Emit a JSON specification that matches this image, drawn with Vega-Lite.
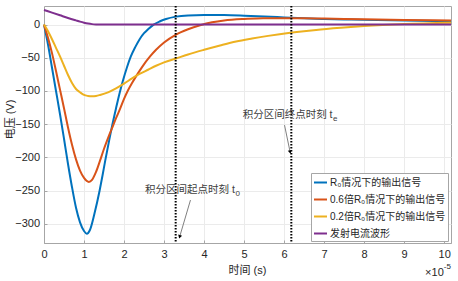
{
  "$schema": "https://vega.github.io/schema/vega-lite/v6.json",
  "width": 407,
  "height": 237,
  "autosize": {"type": "none"},
  "padding": {"left": 44, "top": 6, "right": 7, "bottom": 38},
  "config": {
    "font": "Liberation Sans, Noto Sans CJK SC",
    "view": {"stroke": "#a6a6a6", "strokeWidth": 1},
    "axis": {
      "domainColor": "#a6a6a6",
      "tickColor": "#a6a6a6",
      "gridColor": "#ebebeb",
      "labelColor": "#262626",
      "titleColor": "#262626",
      "labelFontSize": 11,
      "titleFontSize": 11,
      "titleFontWeight": "normal",
      "labelOverlap": false,
      "labelFlush": false
    }
  },
  "datasets": {
    "curves": [
      {"t": 0, "v": 0, "s": "R₀情况下的输出信号"},
      {"t": 0.1, "v": -30, "s": "R₀情况下的输出信号"},
      {"t": 0.2, "v": -65, "s": "R₀情况下的输出信号"},
      {"t": 0.3, "v": -100, "s": "R₀情况下的输出信号"},
      {"t": 0.4, "v": -135, "s": "R₀情况下的输出信号"},
      {"t": 0.5, "v": -172, "s": "R₀情况下的输出信号"},
      {"t": 0.6, "v": -210, "s": "R₀情况下的输出信号"},
      {"t": 0.7, "v": -245, "s": "R₀情况下的输出信号"},
      {"t": 0.8, "v": -276, "s": "R₀情况下的输出信号"},
      {"t": 0.9, "v": -298, "s": "R₀情况下的输出信号"},
      {"t": 1.0, "v": -311, "s": "R₀情况下的输出信号"},
      {"t": 1.07, "v": -315, "s": "R₀情况下的输出信号"},
      {"t": 1.15, "v": -309, "s": "R₀情况下的输出信号"},
      {"t": 1.26, "v": -285, "s": "R₀情况下的输出信号"},
      {"t": 1.39, "v": -250, "s": "R₀情况下的输出信号"},
      {"t": 1.46, "v": -228, "s": "R₀情况下的输出信号"},
      {"t": 1.53, "v": -205, "s": "R₀情况下的输出信号"},
      {"t": 1.62, "v": -177, "s": "R₀情况下的输出信号"},
      {"t": 1.7, "v": -153, "s": "R₀情况下的输出信号"},
      {"t": 1.8, "v": -126, "s": "R₀情况下的输出信号"},
      {"t": 1.89, "v": -103, "s": "R₀情况下的输出信号"},
      {"t": 1.97, "v": -85, "s": "R₀情况下的输出信号"},
      {"t": 2.07, "v": -65, "s": "R₀情况下的输出信号"},
      {"t": 2.17, "v": -48, "s": "R₀情况下的输出信号"},
      {"t": 2.28, "v": -34, "s": "R₀情况下的输出信号"},
      {"t": 2.39, "v": -22, "s": "R₀情况下的输出信号"},
      {"t": 2.5, "v": -13, "s": "R₀情况下的输出信号"},
      {"t": 2.6, "v": -7, "s": "R₀情况下的输出信号"},
      {"t": 2.74, "v": 0, "s": "R₀情况下的输出信号"},
      {"t": 2.9, "v": 5, "s": "R₀情况下的输出信号"},
      {"t": 3.05, "v": 8.5, "s": "R₀情况下的输出信号"},
      {"t": 3.3, "v": 12, "s": "R₀情况下的输出信号"},
      {"t": 3.6, "v": 13.8, "s": "R₀情况下的输出信号"},
      {"t": 4.0, "v": 14.5, "s": "R₀情况下的输出信号"},
      {"t": 4.5, "v": 14.3, "s": "R₀情况下的输出信号"},
      {"t": 5.0, "v": 13.4, "s": "R₀情况下的输出信号"},
      {"t": 5.5, "v": 12.2, "s": "R₀情况下的输出信号"},
      {"t": 6.0, "v": 10.8, "s": "R₀情况下的输出信号"},
      {"t": 6.5, "v": 9.4, "s": "R₀情况下的输出信号"},
      {"t": 7.0, "v": 8.5, "s": "R₀情况下的输出信号"},
      {"t": 7.5, "v": 7.8, "s": "R₀情况下的输出信号"},
      {"t": 8.0, "v": 7.1, "s": "R₀情况下的输出信号"},
      {"t": 9.0, "v": 6.1, "s": "R₀情况下的输出信号"},
      {"t": 10.17, "v": 5.3, "s": "R₀情况下的输出信号"},

      {"t": 0, "v": 0, "s": "0.6倍R₀情况下的输出信号"},
      {"t": 0.1, "v": -20, "s": "0.6倍R₀情况下的输出信号"},
      {"t": 0.2, "v": -43, "s": "0.6倍R₀情况下的输出信号"},
      {"t": 0.3, "v": -70, "s": "0.6倍R₀情况下的输出信号"},
      {"t": 0.4, "v": -98, "s": "0.6倍R₀情况下的输出信号"},
      {"t": 0.5, "v": -126, "s": "0.6倍R₀情况下的输出信号"},
      {"t": 0.6, "v": -155, "s": "0.6倍R₀情况下的输出信号"},
      {"t": 0.7, "v": -181, "s": "0.6倍R₀情况下的输出信号"},
      {"t": 0.8, "v": -203, "s": "0.6倍R₀情况下的输出信号"},
      {"t": 0.9, "v": -220, "s": "0.6倍R₀情况下的输出信号"},
      {"t": 1.0, "v": -231, "s": "0.6倍R₀情况下的输出信号"},
      {"t": 1.12, "v": -237, "s": "0.6倍R₀情况下的输出信号"},
      {"t": 1.2, "v": -234, "s": "0.6倍R₀情况下的输出信号"},
      {"t": 1.3, "v": -222, "s": "0.6倍R₀情况下的输出信号"},
      {"t": 1.4, "v": -205, "s": "0.6倍R₀情况下的输出信号"},
      {"t": 1.5, "v": -187, "s": "0.6倍R₀情况下的输出信号"},
      {"t": 1.6, "v": -171, "s": "0.6倍R₀情况下的输出信号"},
      {"t": 1.7, "v": -156, "s": "0.6倍R₀情况下的输出信号"},
      {"t": 1.8, "v": -141, "s": "0.6倍R₀情况下的输出信号"},
      {"t": 1.9, "v": -127, "s": "0.6倍R₀情况下的输出信号"},
      {"t": 2.0, "v": -112, "s": "0.6倍R₀情况下的输出信号"},
      {"t": 2.1, "v": -99, "s": "0.6倍R₀情况下的输出信号"},
      {"t": 2.2, "v": -88, "s": "0.6倍R₀情况下的输出信号"},
      {"t": 2.3, "v": -78, "s": "0.6倍R₀情况下的输出信号"},
      {"t": 2.45, "v": -64, "s": "0.6倍R₀情况下的输出信号"},
      {"t": 2.65, "v": -48, "s": "0.6倍R₀情况下的输出信号"},
      {"t": 2.8, "v": -38, "s": "0.6倍R₀情况下的输出信号"},
      {"t": 3.0, "v": -27, "s": "0.6倍R₀情况下的输出信号"},
      {"t": 3.3, "v": -15, "s": "0.6倍R₀情况下的输出信号"},
      {"t": 3.6, "v": -7, "s": "0.6倍R₀情况下的输出信号"},
      {"t": 3.9, "v": -1, "s": "0.6倍R₀情况下的输出信号"},
      {"t": 4.2, "v": 3.5, "s": "0.6倍R₀情况下的输出信号"},
      {"t": 4.5, "v": 6.3, "s": "0.6倍R₀情况下的输出信号"},
      {"t": 5.0, "v": 8.5, "s": "0.6倍R₀情况下的输出信号"},
      {"t": 5.5, "v": 9.4, "s": "0.6倍R₀情况下的输出信号"},
      {"t": 6.0, "v": 9.7, "s": "0.6倍R₀情况下的输出信号"},
      {"t": 6.5, "v": 9.5, "s": "0.6倍R₀情况下的输出信号"},
      {"t": 7.0, "v": 9.0, "s": "0.6倍R₀情况下的输出信号"},
      {"t": 8.0, "v": 8.0, "s": "0.6倍R₀情况下的输出信号"},
      {"t": 9.0, "v": 7.0, "s": "0.6倍R₀情况下的输出信号"},
      {"t": 10.17, "v": 6.2, "s": "0.6倍R₀情况下的输出信号"},

      {"t": 0, "v": 0, "s": "0.2倍R₀情况下的输出信号"},
      {"t": 0.1, "v": -10, "s": "0.2倍R₀情况下的输出信号"},
      {"t": 0.2, "v": -22, "s": "0.2倍R₀情况下的输出信号"},
      {"t": 0.3, "v": -35, "s": "0.2倍R₀情况下的输出信号"},
      {"t": 0.4, "v": -48, "s": "0.2倍R₀情况下的输出信号"},
      {"t": 0.5, "v": -62, "s": "0.2倍R₀情况下的输出信号"},
      {"t": 0.6, "v": -76, "s": "0.2倍R₀情况下的输出信号"},
      {"t": 0.7, "v": -88, "s": "0.2倍R₀情况下的输出信号"},
      {"t": 0.8, "v": -97, "s": "0.2倍R₀情况下的输出信号"},
      {"t": 0.9, "v": -102, "s": "0.2倍R₀情况下的输出信号"},
      {"t": 1.0, "v": -106, "s": "0.2倍R₀情况下的输出信号"},
      {"t": 1.1, "v": -107.5, "s": "0.2倍R₀情况下的输出信号"},
      {"t": 1.2, "v": -108, "s": "0.2倍R₀情况下的输出信号"},
      {"t": 1.3, "v": -107.5, "s": "0.2倍R₀情况下的输出信号"},
      {"t": 1.4, "v": -106, "s": "0.2倍R₀情况下的输出信号"},
      {"t": 1.6, "v": -102, "s": "0.2倍R₀情况下的输出信号"},
      {"t": 1.8, "v": -96, "s": "0.2倍R₀情况下的输出信号"},
      {"t": 2.0, "v": -89, "s": "0.2倍R₀情况下的输出信号"},
      {"t": 2.2, "v": -81, "s": "0.2倍R₀情况下的输出信号"},
      {"t": 2.4, "v": -74, "s": "0.2倍R₀情况下的输出信号"},
      {"t": 2.6, "v": -68, "s": "0.2倍R₀情况下的输出信号"},
      {"t": 2.8, "v": -62, "s": "0.2倍R₀情况下的输出信号"},
      {"t": 3.0, "v": -57, "s": "0.2倍R₀情况下的输出信号"},
      {"t": 3.3, "v": -51, "s": "0.2倍R₀情况下的输出信号"},
      {"t": 3.6, "v": -45, "s": "0.2倍R₀情况下的输出信号"},
      {"t": 4.0, "v": -38, "s": "0.2倍R₀情况下的输出信号"},
      {"t": 4.4, "v": -31.5, "s": "0.2倍R₀情况下的输出信号"},
      {"t": 4.8, "v": -25.5, "s": "0.2倍R₀情况下的输出信号"},
      {"t": 5.2, "v": -21, "s": "0.2倍R₀情况下的输出信号"},
      {"t": 5.6, "v": -17, "s": "0.2倍R₀情况下的输出信号"},
      {"t": 6.2, "v": -12, "s": "0.2倍R₀情况下的输出信号"},
      {"t": 6.8, "v": -8, "s": "0.2倍R₀情况下的输出信号"},
      {"t": 7.5, "v": -4.5, "s": "0.2倍R₀情况下的输出信号"},
      {"t": 8.0, "v": -2.3, "s": "0.2倍R₀情况下的输出信号"},
      {"t": 9.0, "v": 0.8, "s": "0.2倍R₀情况下的输出信号"},
      {"t": 10.17, "v": 2.8, "s": "0.2倍R₀情况下的输出信号"},

      {"t": 0, "v": 22, "s": "发射电流波形"},
      {"t": 0.2, "v": 18, "s": "发射电流波形"},
      {"t": 0.4, "v": 14, "s": "发射电流波形"},
      {"t": 0.6, "v": 10, "s": "发射电流波形"},
      {"t": 0.8, "v": 6.3, "s": "发射电流波形"},
      {"t": 0.9, "v": 4.5, "s": "发射电流波形"},
      {"t": 1.0, "v": 2.9, "s": "发射电流波形"},
      {"t": 1.1, "v": 1.6, "s": "发射电流波形"},
      {"t": 1.2, "v": 0.7, "s": "发射电流波形"},
      {"t": 1.3, "v": 0.2, "s": "发射电流波形"},
      {"t": 1.4, "v": 0, "s": "发射电流波形"},
      {"t": 10.17, "v": 0, "s": "发射电流波形"}
    ],
    "markers": [{"t": 3.29}, {"t": 6.18}],
    "arrows": [
      {"id": "start", "t": 3.66, "v": -264.3, "t2": 3.39, "v2": -319.6},
      {"id": "end", "t": 6.01, "v": -151.4, "t2": 6.15, "v2": -192}
    ],
    "notes": [
      {"t": 4.77, "v": -249, "main": "积分区间起点时刻 t", "sub": "0"},
      {"t": 7.21, "v": -136.3, "main": "积分区间终点时刻 t", "sub": "e"}
    ],
    "exponent": [{"t": 9.99, "v": -329, "base": "×10", "pow": "-5"}]
  },
  "layer": [
    {
      "data": {"name": "curves"},
      "mark": {"type": "line", "strokeWidth": 2, "interpolate": "monotone"},
      "encoding": {
        "x": {
          "field": "t", "type": "quantitative",
          "scale": {"domain": [0, 10.17], "nice": false, "zero": false},
          "axis": {"values": [0,1,2,3,4,5,6,7,8,9,10], "title": "时间 (s)", "grid": true, "tickSize": -3, "labelPadding": 8, "titleX": 203, "titleY": 27, "titleBaseline": "middle"}
        },
        "y": {
          "field": "v", "type": "quantitative",
          "scale": {"domain": [-329, 28], "nice": false, "zero": false},
          "axis": {"values": [-300,-250,-200,-150,-100,-50,0], "title": "电压 (V)", "grid": true, "tickSize": -3, "labelPadding": 7.5, "titleX": -34, "titleY": 113, "titleBaseline": "middle", "titleAlign": "center"}
        },
        "color": {
          "field": "s", "type": "nominal",
          "scale": {
            "domain": ["R₀情况下的输出信号", "0.6倍R₀情况下的输出信号", "0.2倍R₀情况下的输出信号", "发射电流波形"],
            "range": ["#0072BD", "#D95319", "#EDB120", "#7E2F8E"]
          },
          "legend": {
            "title": null, "orient": "none", "legendX": 267, "legendY": 167,
            "fillColor": "white", "strokeColor": "#a6a6a6", "padding": 2,
            "symbolType": "stroke", "symbolSize": 169, "symbolStrokeWidth": 2,
            "labelFontSize": 10, "labelOffset": 2, "rowPadding": 4, "labelLimit": 200,
            "labelColor": "#262626"
          }
        }
      }
    },
    {
      "data": {"name": "markers"},
      "mark": {"type": "rule", "color": "black", "strokeWidth": 2, "strokeDash": [1.5, 1.5]},
      "encoding": {"x": {"field": "t", "type": "quantitative",
          "axis": {"values": [0,1,2,3,4,5,6,7,8,9,10], "title": "时间 (s)", "grid": true, "tickSize": -3, "labelPadding": 8, "titleX": 203, "titleY": 27, "titleBaseline": "middle"}}}
    },
    {
      "data": {"name": "arrows"},
      "mark": {"type": "rule", "color": "#808080", "strokeWidth": 1},
      "encoding": {
        "x": {"field": "t", "type": "quantitative",
          "axis": {"values": [0,1,2,3,4,5,6,7,8,9,10], "title": "时间 (s)", "grid": true, "tickSize": -3, "labelPadding": 8, "titleX": 203, "titleY": 27, "titleBaseline": "middle"}},
        "y": {"field": "v", "type": "quantitative",
          "axis": {"values": [-300,-250,-200,-150,-100,-50,0], "title": "电压 (V)", "grid": true, "tickSize": -3, "labelPadding": 7.5, "titleX": -34, "titleY": 113, "titleBaseline": "middle", "titleAlign": "center"}},
        "x2": {"field": "t2"},
        "y2": {"field": "v2"}
      }
    },
    {
      "data": {"name": "arrows"},
      "transform": [{"filter": "datum.id === 'start'"}],
      "mark": {"type": "point", "shape": "triangle-up", "filled": true, "color": "black", "size": 16, "angle": 196, "opacity": 1},
      "encoding": {
        "x": {"field": "t2", "type": "quantitative", "title": "时间 (s)",
          "axis": {"values": [0,1,2,3,4,5,6,7,8,9,10], "title": "时间 (s)", "grid": true, "tickSize": -3, "labelPadding": 8, "titleX": 203, "titleY": 27, "titleBaseline": "middle"}},
        "y": {"field": "v2", "type": "quantitative", "title": "电压 (V)",
          "axis": {"values": [-300,-250,-200,-150,-100,-50,0], "title": "电压 (V)", "grid": true, "tickSize": -3, "labelPadding": 7.5, "titleX": -34, "titleY": 113, "titleBaseline": "middle", "titleAlign": "center"}}
      }
    },
    {
      "data": {"name": "arrows"},
      "transform": [{"filter": "datum.id === 'end'"}],
      "mark": {"type": "point", "shape": "triangle-up", "filled": true, "color": "black", "size": 16, "angle": 167, "opacity": 1},
      "encoding": {
        "x": {"field": "t2", "type": "quantitative", "title": "时间 (s)",
          "axis": {"values": [0,1,2,3,4,5,6,7,8,9,10], "title": "时间 (s)", "grid": true, "tickSize": -3, "labelPadding": 8, "titleX": 203, "titleY": 27, "titleBaseline": "middle"}},
        "y": {"field": "v2", "type": "quantitative", "title": "电压 (V)",
          "axis": {"values": [-300,-250,-200,-150,-100,-50,0], "title": "电压 (V)", "grid": true, "tickSize": -3, "labelPadding": 7.5, "titleX": -34, "titleY": 113, "titleBaseline": "middle", "titleAlign": "center"}}
      }
    },
    {
      "data": {"name": "notes"},
      "mark": {"type": "text", "align": "right", "baseline": "middle", "fontSize": 10.5, "color": "#404040"},
      "encoding": {
        "x": {"field": "t", "type": "quantitative",
          "axis": {"values": [0,1,2,3,4,5,6,7,8,9,10], "title": "时间 (s)", "grid": true, "tickSize": -3, "labelPadding": 8, "titleX": 203, "titleY": 27, "titleBaseline": "middle"}},
        "y": {"field": "v", "type": "quantitative",
          "axis": {"values": [-300,-250,-200,-150,-100,-50,0], "title": "电压 (V)", "grid": true, "tickSize": -3, "labelPadding": 7.5, "titleX": -34, "titleY": 113, "titleBaseline": "middle", "titleAlign": "center"}},
        "text": {"field": "main"}
      }
    },
    {
      "data": {"name": "notes"},
      "mark": {"type": "text", "align": "left", "baseline": "middle", "fontSize": 8, "dy": 4, "dx": 0.5, "color": "#404040"},
      "encoding": {
        "x": {"field": "t", "type": "quantitative",
          "axis": {"values": [0,1,2,3,4,5,6,7,8,9,10], "title": "时间 (s)", "grid": true, "tickSize": -3, "labelPadding": 8, "titleX": 203, "titleY": 27, "titleBaseline": "middle"}},
        "y": {"field": "v", "type": "quantitative",
          "axis": {"values": [-300,-250,-200,-150,-100,-50,0], "title": "电压 (V)", "grid": true, "tickSize": -3, "labelPadding": 7.5, "titleX": -34, "titleY": 113, "titleBaseline": "middle", "titleAlign": "center"}},
        "text": {"field": "sub"}
      }
    },
    {
      "data": {"name": "exponent"},
      "mark": {"type": "text", "align": "right", "baseline": "middle", "fontSize": 11, "dy": 29.7, "color": "#262626"},
      "encoding": {
        "x": {"field": "t", "type": "quantitative",
          "axis": {"values": [0,1,2,3,4,5,6,7,8,9,10], "title": "时间 (s)", "grid": true, "tickSize": -3, "labelPadding": 8, "titleX": 203, "titleY": 27, "titleBaseline": "middle"}},
        "y": {"field": "v", "type": "quantitative",
          "axis": {"values": [-300,-250,-200,-150,-100,-50,0], "title": "电压 (V)", "grid": true, "tickSize": -3, "labelPadding": 7.5, "titleX": -34, "titleY": 113, "titleBaseline": "middle", "titleAlign": "center"}},
        "text": {"field": "base"}
      }
    },
    {
      "data": {"name": "exponent"},
      "mark": {"type": "text", "align": "left", "baseline": "middle", "fontSize": 8, "dy": 24, "color": "#262626"},
      "encoding": {
        "x": {"field": "t", "type": "quantitative",
          "axis": {"values": [0,1,2,3,4,5,6,7,8,9,10], "title": "时间 (s)", "grid": true, "tickSize": -3, "labelPadding": 8, "titleX": 203, "titleY": 27, "titleBaseline": "middle"}},
        "y": {"field": "v", "type": "quantitative",
          "axis": {"values": [-300,-250,-200,-150,-100,-50,0], "title": "电压 (V)", "grid": true, "tickSize": -3, "labelPadding": 7.5, "titleX": -34, "titleY": 113, "titleBaseline": "middle", "titleAlign": "center"}},
        "text": {"field": "pow"}
      }
    }
  ]
}
